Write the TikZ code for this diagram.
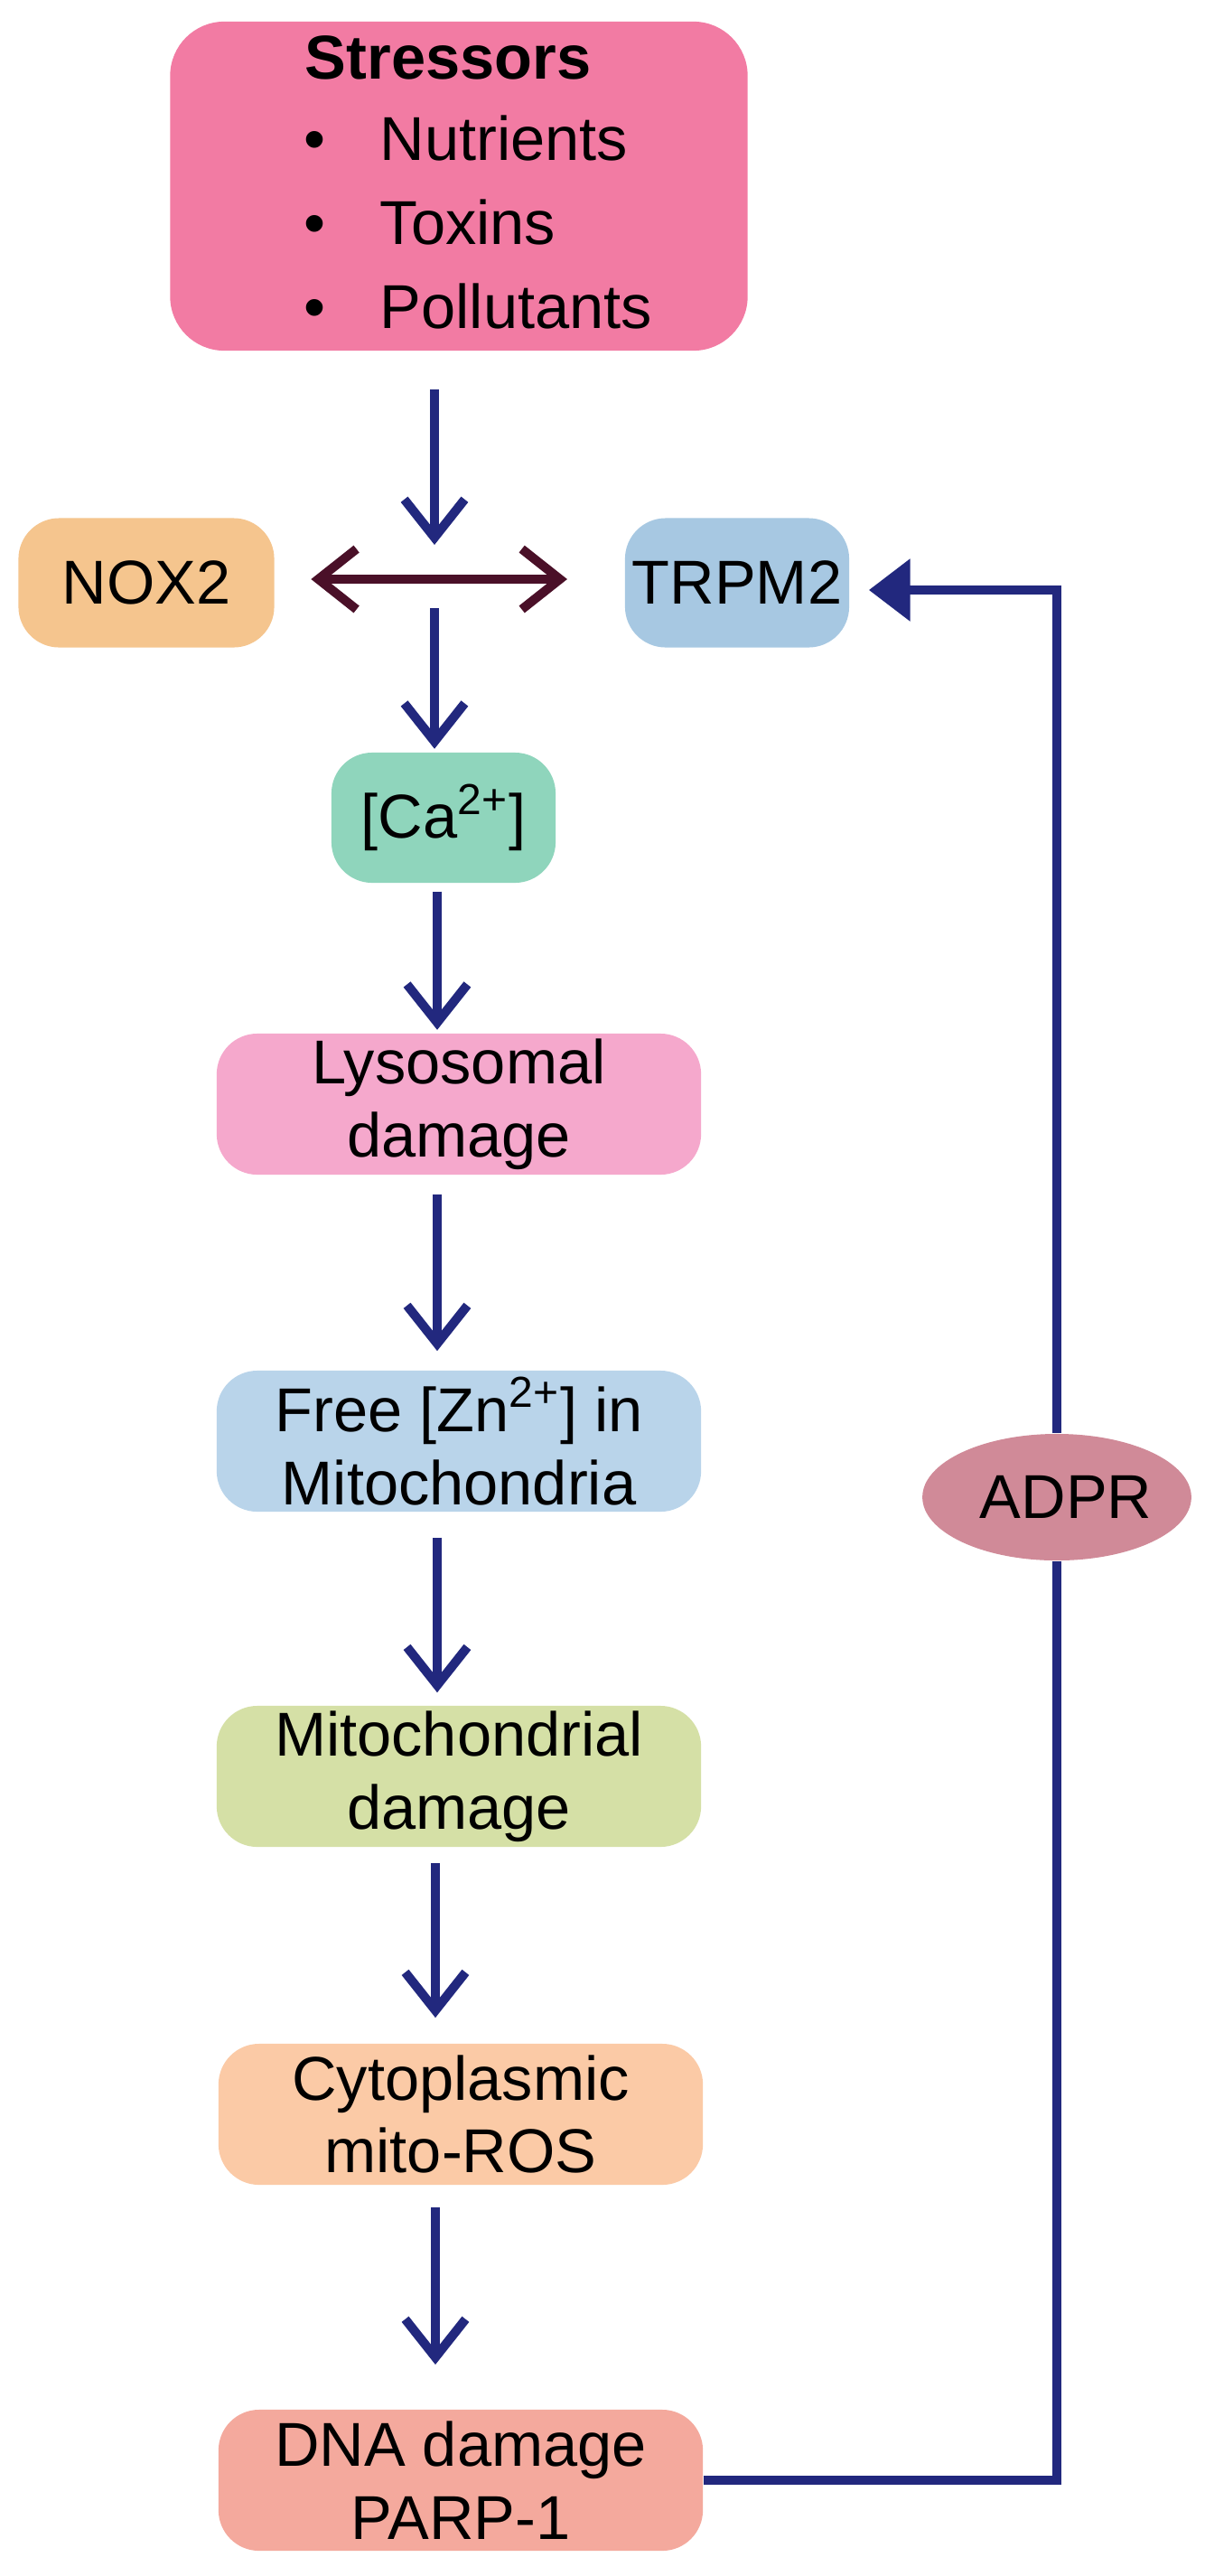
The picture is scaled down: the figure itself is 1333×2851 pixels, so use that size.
\documentclass[tikz,border=0pt]{standalone}
\usepackage{fontspec}
\setmainfont{Liberation Sans}
\usetikzlibrary{arrows.meta,shapes.geometric}
\definecolor{cStress}{HTML}{F27BA3}
\definecolor{cNox}{HTML}{F5C58E}
\definecolor{cTrpm}{HTML}{A7C8E2}
\definecolor{cCa}{HTML}{8FD5BC}
\definecolor{cLyso}{HTML}{F5A8CC}
\definecolor{cZn}{HTML}{B9D4EA}
\definecolor{cMito}{HTML}{D5E0A6}
\definecolor{cCyto}{HTML}{FBCAA6}
\definecolor{cDna}{HTML}{F4A99D}
\definecolor{cAdpr}{HTML}{D08A98}
\definecolor{cBlue}{HTML}{22287E}
\definecolor{cMaroon}{HTML}{4A1028}
\begin{document}
\begin{tikzpicture}[x=0.01cm,y=-0.01cm,
  box/.style={draw=none,rounded corners=0.45cm,inner sep=0pt,align=center,
    font=\fontsize{19.5}{23}\selectfont},
  col/.style={box,minimum width=5.36cm,minimum height=1.56cm},
  arr/.style={draw=cBlue,line width=2.85pt,-{Straight Barb[length=12pt,width=19pt]}},
  darr/.style={draw=cMaroon,line width=2.85pt,{Straight Barb[length=12pt,width=19pt]}-{Straight Barb[length=12pt,width=19pt]}},
  fb/.style={draw=cBlue,line width=2.85pt}]
\useasboundingbox (0,0) rectangle (1333,2851);
\fill[white] (0,0) rectangle (1333,2851);
\node[box,fill=cStress,minimum width=6.39cm,minimum height=3.64cm,rounded corners=0.6cm] (stress) at (508,206) {};
\node[font=\fontsize{19.5}{23}\selectfont\bfseries] (stt) at (496,64) {Stressors};
\node[font=\fontsize{19.5}{23}\selectfont,anchor=north west,align=left,inner sep=0pt] (stl) at (336,120)
  {\begin{tabular}{@{}l@{\hspace{0.6cm}}l@{}}
   \textbullet & Nutrients\\[0.12cm]
   \textbullet & Toxins\\[0.12cm]
   \textbullet & Pollutants
   \end{tabular}};
\node[box,fill=cNox,minimum width=2.83cm,minimum height=1.43cm] (nox) at (162,645) {NOX2};
\node[box,fill=cTrpm,minimum width=2.48cm,minimum height=1.43cm] (trpm) at (816,645) {TRPM2};
\coordinate (j) at (481,641);
\node[box,fill=cCa,minimum width=2.48cm,minimum height=1.44cm] (ca) at (491,905) {[Ca\textsuperscript{2+}]};
\node[col,fill=cLyso] (lyso) at (508,1222) {Lysosomal\\damage};
\node[col,fill=cZn] (zn) at (508,1595) {Free [Zn\textsuperscript{2+}] in\\Mitochondria};
\node[col,fill=cMito] (mito) at (508,1966) {Mitochondrial\\damage};
\node[col,fill=cCyto] (cyto) at (510,2340) {Cytoplasmic\\mito-ROS};
\node[col,fill=cDna] (dna) at (510,2745) {DNA damage\\PARP-1};
\node[ellipse,fill=cAdpr,minimum width=2.76cm,minimum height=1.40cm,inner sep=0pt,
  font=\fontsize{19.5}{23}\selectfont] (adpr) at (1170,1657) {\hspace{0.2cm}ADPR};
% connectors
\draw[arr] ([yshift=-0.42cm]stress.south -| j) -- ([yshift=0.38cm]j);
\draw[darr,shorten <=11.4pt,shorten >=18pt] (nox.east |- j) -- (trpm.west |- j);
\draw[arr,shorten <=4.5pt,shorten >=1pt] ([yshift=-0.16cm]j) -- (ca.north -| j);
\draw[arr,shorten <=2.5pt,shorten >=1pt] (ca.south -| 484,0) -- (lyso.north -| 484,0);
\draw[arr,shorten <=6pt,shorten >=6pt] (lyso.south -| 484,0) -- (zn.north -| 484,0);
\draw[arr,shorten <=8pt,shorten >=4pt] (zn.south -| 484,0) -- (mito.north -| 484,0);
\draw[arr,shorten <=5pt,shorten >=8pt] (mito.south -| 482,0) -- (cyto.north -| 482,0);
\draw[arr,shorten <=7pt,shorten >=14pt] (cyto.south -| 482,0) -- (dna.north -| 482,0);
\draw[fb] (dna.east) -- (dna.east -| adpr.south) -- (adpr.south);
\draw[fb,-{Triangle[length=13pt,width=19pt]},shorten >=6pt] (adpr.north) |- ([yshift=-0.08cm]trpm.east);
\end{tikzpicture}
\end{document}
